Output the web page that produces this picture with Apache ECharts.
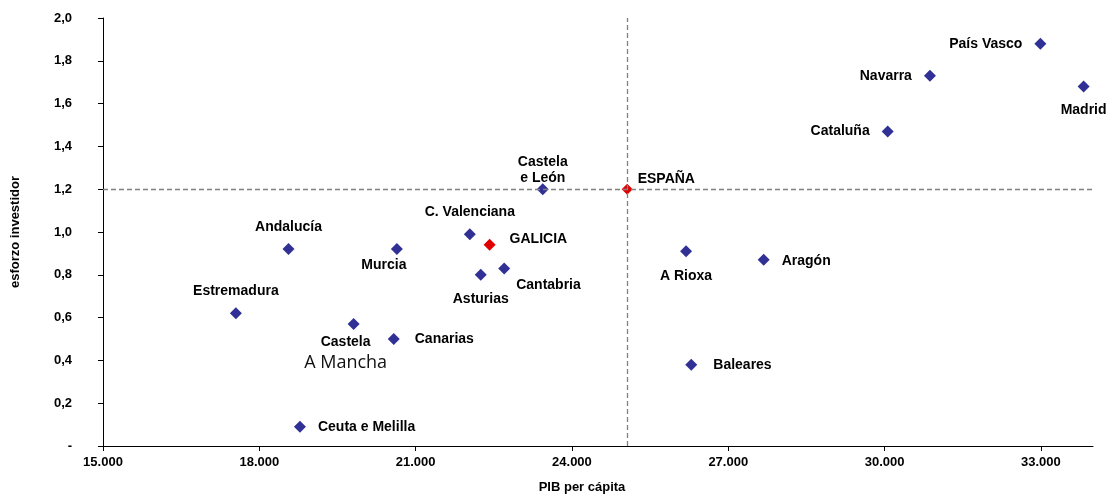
<!DOCTYPE html>
<html>
<head>
<meta charset="utf-8">
<script src="https://cdn.jsdelivr.net/npm/echarts@6/dist/echarts.min.js"></script>
<style>html,body{margin:0;padding:0;background:#fff}#c{width:1108px;height:495px}</style>
</head>
<body>
<div id="c"></div>
<script>
// ---- data ----
const regions = ['País Vasco','Navarra','Madrid','Cataluña','Castela e León','C. Valenciana','Andalucía','Murcia','Cantabria','Asturias','A Rioxa','Aragón','Estremadura','Castela A Mancha','Canarias','Baleares','Ceuta e Melilla'];
const pib =     [32990, 30870, 33820, 30060, 23440, 22040, 18560, 20640, 22700, 22250, 26190, 27680, 17550, 19810, 20580, 26290, 18780];
const esforzo = [1.88,  1.73,  1.68,  1.47,  1.20,  0.99,  0.92,  0.92,  0.83,  0.80,  0.91,  0.87,  0.62,  0.57,  0.50,  0.38,  0.09];
const galicia = {name: 'GALICIA', pib: 22420, esforzo: 0.94};
const espana = {name: 'ESPAÑA', pib: 25060, esforzo: 1.20};
const xTicks = [15000, 18000, 21000, 24000, 27000, 30000, 33000];
const yTicks = [0, 0.2, 0.4, 0.6, 0.8, 1.0, 1.2, 1.4, 1.6, 1.8, 2.0];

// ---- label styling (positions only) ----
const labelStyle = {
  'País Vasco': {position: 'left', distance: 12},
  'Navarra': {position: 'left', distance: 12},
  'Madrid': {position: 'bottom', distance: 11},
  'Cataluña': {position: 'left', distance: 12},
  'Castela e León': {position: 'top', distance: 1, offset: [0, 4], formatter: 'Castela\ne León', lineHeight: 16},
  'C. Valenciana': {position: 'top', distance: 9},
  'Andalucía': {position: 'top', distance: 9},
  'Murcia': {position: 'bottom', distance: 3, offset: [-13, 0]},
  'Cantabria': {position: 'right', distance: 6, offset: [0, 17]},
  'Asturias': {position: 'bottom', distance: 11},
  'A Rioxa': {position: 'bottom', distance: 12},
  'Aragón': {position: 'right', distance: 12, offset: [0, 1]},
  'Estremadura': {position: 'top', distance: 9},
  'Castela A Mancha': {position: 'bottom', distance: 3, offset: [-8, 0],
     formatter: '{b|Castela}\n{m|A Mancha}'},
  'Canarias': {position: 'right', distance: 15},
  'Baleares': {position: 'right', distance: 16},
  'Ceuta e Melilla': {position: 'right', distance: 12}
};

const fmtX = v => {
  const s = String(Math.round(v));
  return s.replace(/\B(?=(\d{3})+(?!\d))/g, '.');
};
const fmtY = v => v === 0 ? '-' : v.toFixed(1).replace('.', ',');

const regionData = regions.map((n, i) => {
  const ls = labelStyle[n] || {};
  const label = Object.assign({show: true}, ls);
  if (!label.formatter) label.formatter = n;
  return {name: n, value: [pib[i], esforzo[i]], label: label};
});

const chart = echarts.init(document.getElementById('c'), null, {renderer: 'canvas'});
const boldFont = {fontFamily: 'Liberation Sans, Arial, sans-serif', fontWeight: 'bold', color: '#000'};

chart.setOption({
  animation: false,
  backgroundColor: '#fff',
  grid: {left: 103, right: 15, top: 18, bottom: 49, containLabel: false, outerBoundsMode: 'none'},
  xAxis: {
    type: 'value', min: 15000, max: 34000, interval: 1000,
    name: 'PIB per cápita', nameLocation: 'middle', nameGap: 35,
    nameTextStyle: Object.assign({fontSize: 13, padding: [0, 32, 0, 0]}, boldFont),
    axisLine: {show: true, lineStyle: {color: '#000', width: 1}},
    axisTick: {show: true, length: 5, lineStyle: {color: '#000'}, customValues: xTicks},
    axisLabel: Object.assign({fontSize: 13, margin: 10, customValues: xTicks, formatter: fmtX}, boldFont),
    splitLine: {show: false}
  },
  yAxis: {
    type: 'value', min: 0, max: 2.0, interval: 0.2,
    name: 'esforzo investidor', nameLocation: 'middle', nameGap: 81, nameRotate: 90,
    nameTextStyle: Object.assign({fontSize: 13}, boldFont),
    axisLine: {show: true, lineStyle: {color: '#000', width: 1}},
    axisTick: {show: true, length: 5, lineStyle: {color: '#000'}, customValues: yTicks},
    axisLabel: Object.assign({fontSize: 13, margin: 31, align: 'right', customValues: yTicks, formatter: fmtY}, boldFont),
    splitLine: {show: false}
  },
  series: [
    {
      type: 'scatter', name: 'regions', symbol: 'diamond', symbolSize: 12,
      itemStyle: {color: '#313195', opacity: 1},
      label: {
        show: true, fontSize: 14, fontFamily: 'Liberation Sans, Arial, sans-serif', fontWeight: 'bold', color: '#000',
        rich: {
          b: {fontSize: 14, fontFamily: 'Liberation Sans, Arial, sans-serif', fontWeight: 'bold', color: '#000', lineHeight: 18, align: 'center'},
          m: {fontSize: 18, fontFamily: 'Open Sans, sans-serif', fontWeight: 'normal', color: '#111', lineHeight: 24, align: 'center'}
        }
      },
      data: regionData, z: 3
    },
    {
      type: 'scatter', name: 'GALICIA', symbol: 'diamond', symbolSize: 12,
      itemStyle: {color: '#e00000', opacity: 1},
      label: {show: true, position: 'right', distance: 14, offset: [0, -6], formatter: galicia.name,
        fontSize: 14, fontFamily: 'Liberation Sans, Arial, sans-serif', fontWeight: 'bold', color: '#000'},
      data: [[galicia.pib, galicia.esforzo]], z: 3
    },
    {
      type: 'scatter', name: 'ESPAÑA', symbol: 'diamond', symbolSize: 11,
      itemStyle: {color: '#e00000', opacity: 1},
      label: {show: true, position: 'right', distance: 5, offset: [0, -10], formatter: espana.name,
        fontSize: 14, fontFamily: 'Liberation Sans, Arial, sans-serif', fontWeight: 'bold', color: '#000'},
      data: [[espana.pib, espana.esforzo]], z: 2,
      markLine: {
        silent: true, symbol: 'none', label: {show: false}, z: 4,
        lineStyle: {color: '#808080', type: [5, 3], width: 1.3},
        data: [{yAxis: espana.esforzo}, {xAxis: espana.pib}]
      }
    }
  ]
});
</script>
</body>
</html>
